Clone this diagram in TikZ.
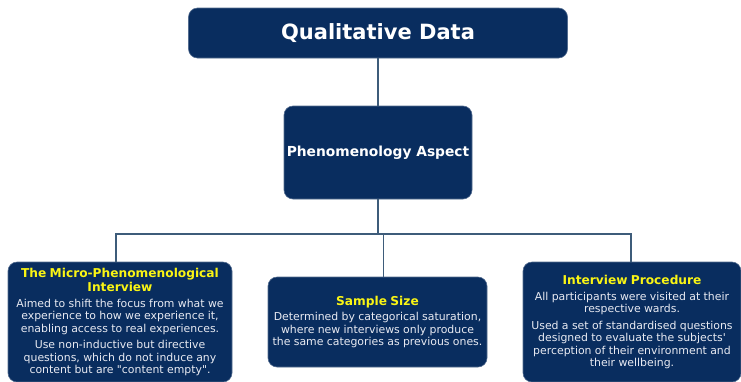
\documentclass[tikz,border=0pt]{standalone}
\usepackage{fontspec}
\setmainfont{DejaVu Sans}[Ligatures=TeXOff]
\definecolor{navy}{RGB}{9,45,95}
\definecolor{linkgray}{RGB}{62,92,122}
\definecolor{headyellow}{RGB}{250,245,20}
\definecolor{bodywhite}{RGB}{232,234,242}
\newcommand{\headfont}{\fontsize{12.2}{14}\selectfont\bfseries\color{headyellow}}
\newcommand{\bodyfont}{\fontsize{10.9}{12.5}\selectfont\color{bodywhite}}
\begin{document}
\begin{tikzpicture}[x=1pt,y=-1pt,
  box/.style={fill=navy, draw=navy!70!white, line width=0.6pt, rounded corners=9pt,
              inner sep=0pt, align=center, text=white},
  conn/.style={draw=linkgray, line width=1.5pt}]
\useasboundingbox (0,0) rectangle (741,381);

% upper levels
\node[box, minimum width=379pt, minimum height=50pt,
      font=\fontsize{21}{24}\selectfont\bfseries] (top) at (378,33) {Qualitative Data};
\node[box, minimum width=188pt, minimum height=93pt,
      font=\fontsize{13.8}{16}\selectfont\bfseries] (ph) at (378,152.5) {Phenomenology Aspect};

% three detail boxes
\node[box, minimum width=224pt, minimum height=120pt, text width=224pt] (L) at (120,322) {%
  {\headfont The Micro-Phenomenological\\Interview\par}\vspace{3pt}%
  {\bodyfont Aimed to shift the focus from what we\\experience to how we experience it,\\enabling access to real experiences.\par}\vspace{4pt}%
  {\bodyfont Use non-inductive but directive\\questions, which do not induce any\\content but are "content empty".\par}};
\node[box, minimum width=219pt, minimum height=90pt, text width=219pt] (M) at (377.5,322) {%
  {\headfont Sample Size\par}\vspace{3pt}%
  {\bodyfont Determined by categorical saturation,\\where new interviews only produce\\the same categories as previous ones.\par}};
\node[box, minimum width=218pt, minimum height=120pt, text width=218pt] (R) at (632,322) {%
  {\headfont Interview Procedure\par}\vspace{3pt}%
  {\bodyfont All participants were visited at their\\respective wards.\par}\vspace{4pt}%
  {\bodyfont Used a set of standardised questions\\designed to evaluate the subjects'\\perception of their environment and\\their wellbeing.\par}};

% connectors
\coordinate (bus) at (378,234);
\draw[conn] (top) -- (ph);
\draw[conn] (ph.south) -- (ph.south |- bus);
\draw[conn] ([xshift=-4pt]L.north) |- ([xshift=-1pt]R.north |- bus) -- ([xshift=-1pt]R.north);
\draw[conn] ([xshift=6pt]M.north) -- ([xshift=6pt]M.north |- bus);
\end{tikzpicture}
\end{document}
